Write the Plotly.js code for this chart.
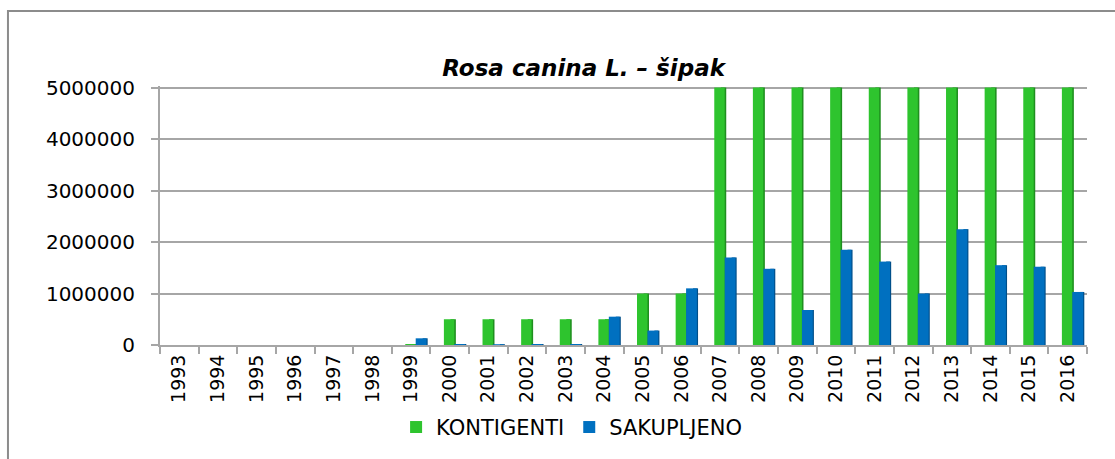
<!DOCTYPE html>
<html>
<head>
<meta charset="utf-8">
<script src="https://cdn.plot.ly/plotly-3.0.1.min.js"></script>
<style>html,body{margin:0;padding:0;background:#fff;}#chart{width:1115px;height:459px;}</style>
</head>
<body>
<div id="chart"></div>
<script>
var years = ["1993","1994","1995","1996","1997","1998","1999","2000","2001","2002","2003","2004","2005","2006","2007","2008","2009","2010","2011","2012","2013","2014","2015","2016"];
var kontigenti = [0,0,0,0,0,0,20000,500000,500000,500000,500000,500000,1000000,1000000,5000000,5000000,5000000,5000000,5000000,5000000,5000000,5000000,5000000,5000000];
var sakupljeno = [0,0,0,0,0,0,130000,20000,15000,20000,20000,550000,280000,1100000,1700000,1480000,680000,1850000,1620000,1000000,2250000,1550000,1520000,1030000];
var yTicks = [0,1000000,2000000,3000000,4000000,5000000];
var yTickText = ["0","1000000","2000000","3000000","4000000","5000000"];
var seriesNames = ["KONTIGENTI","SAKUPLJENO"];
var titleText = "Rosa canina L. – šipak";

var font = "DejaVu Sans, Open Sans, sans-serif";
var traces = [
  {type:"bar", x:years, y:kontigenti, name:seriesNames[0], showlegend:false, offset:0.02, width:0.14,
   marker:{color:"#1F8F1F"}, hoverinfo:"skip"},
  {type:"bar", x:years, y:kontigenti, name:seriesNames[0], offset:-0.15, width:0.27,
   marker:{color:"#2EC42E"}, hoverinfo:"skip"},
  {type:"bar", x:years, y:sakupljeno, name:seriesNames[1], showlegend:false, offset:0.3, width:0.13,
   marker:{color:"#004F8A"}, hoverinfo:"skip"},
  {type:"bar", x:years, y:sakupljeno, name:seriesNames[1], offset:0.12, width:0.28,
   marker:{color:"#0070C0"}, hoverinfo:"skip"}
];

var layout = {
  width:1115, height:459,
  margin:{l:160, r:28, t:86, b:113},
  paper_bgcolor:"#ffffff", plot_bgcolor:"#ffffff",
  barmode:"overlay",
  showlegend:true,
  title:{text:"<b><i>"+titleText+"</i></b>", x:0.457, xref:"paper", xanchor:"center",
         y:0.852, yref:"container", yanchor:"middle",
         font:{family:font, size:23, color:"#000000"}},
  xaxis:{type:"category", categoryorder:"array", categoryarray:years,
         tickson:"boundaries", ticks:"outside", ticklen:7, tickcolor:"#A6A6A6", tickwidth:2,
         showline:true, linecolor:"#A6A6A6", linewidth:2, showgrid:false,
         tickangle:-90, tickfont:{family:font, size:19, color:"#000000"}},
  yaxis:{range:[0,5030000], tickvals:yTicks, ticktext:yTickText,
         ticks:"outside", ticklen:7, tickcolor:"#A6A6A6", tickwidth:2,
         showline:true, linecolor:"#A6A6A6", linewidth:2,
         showgrid:true, gridcolor:"#A6A6A6", gridwidth:2, zeroline:false,
         ticklabelstandoff:12,
         tickfont:{family:font, size:20, color:"#000000"}},
  legend:{orientation:"h", x:0.444, xanchor:"center", y:-0.313, yanchor:"middle",
          font:{family:font, size:21, color:"#000000"}, itemwidth:30, traceorder:"normal",
          bgcolor:"rgba(0,0,0,0)"},
  shapes:[{type:"rect", xref:"paper", yref:"paper", x0:-0.164, x1:1.08, y0:-0.47, y1:1.29,
           line:{color:"#8C8C8C", width:2}, fillcolor:"rgba(0,0,0,0)", layer:"below"}]
};

Plotly.newPlot("chart", traces, layout, {staticPlot:true, displayModeBar:false});
</script>
</body>
</html>
